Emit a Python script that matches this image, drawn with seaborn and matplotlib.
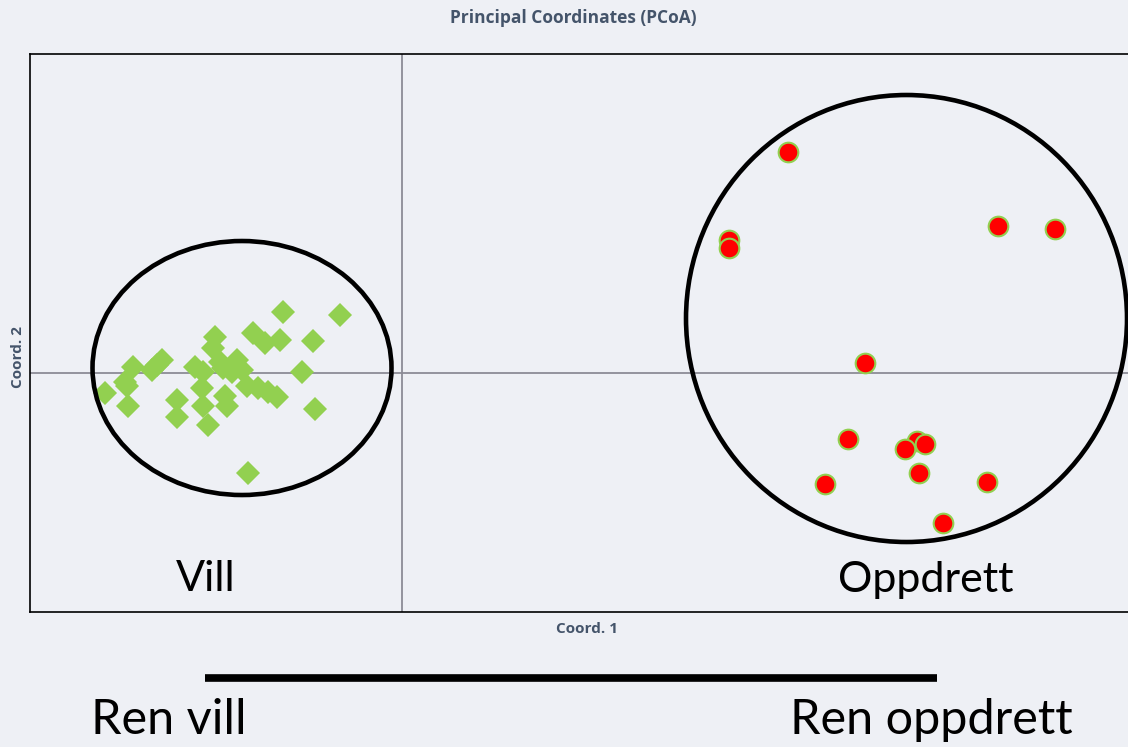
"""
PCoA scatter: Vill vs Oppdrett
"""
import pandas as pd
import seaborn as sns
import matplotlib

matplotlib.use('Agg')
import matplotlib.pyplot as plt
from matplotlib.patches import Ellipse

# ==================== data ====================
vill_x = [-1.19, -0.62, -1.87, -1.49, -1.37, -1.22, -0.89, -1.89, -2.40, -2.69,
          -2.50, -2.45, -2.07, -1.99, -1.82, -1.79, -1.65, -1.70, -1.60, -1.00,
          -2.97, -2.77, -2.75, -1.55, -1.44, -1.34, -1.25, -2.00, -2.25, -2.74,
          -2.25, -1.99, -1.77, -1.75, -1.94, -0.87, -1.54]
vill_y = [0.61, 0.58, 0.36, 0.40, 0.30, 0.33, 0.32, 0.25, 0.13, 0.06,
          0.03, 0.08, 0.06, 0.01, 0.11, 0.05, 0.13, 0.01, 0.03, 0.01,
          -0.20, -0.09, -0.13, -0.13, -0.15, -0.19, -0.24, -0.15, -0.27, -0.33,
          -0.44, -0.33, -0.23, -0.33, -0.52, -0.36, -1.00]

oppdrett_x = [3.86, 3.27, 3.27, 5.96, 6.53, 4.63, 4.46, 5.15, 5.23, 5.03,
              5.17, 4.23, 5.85, 5.41]
oppdrett_y = [2.21, 1.33, 1.25, 1.47, 1.44, 0.10, -0.66, -0.68, -0.71, -0.76,
              -1.00, -1.11, -1.09, -1.50]

df_vill = pd.DataFrame({"x": vill_x, "y": vill_y})
df_opp = pd.DataFrame({"x": oppdrett_x, "y": oppdrett_y})

BG = '#eef0f5'
TITLE_COLOR = '#44546a'

fig = plt.figure(figsize=(11.28, 7.47), dpi=100, facecolor=BG)
ax = fig.add_axes([0.0266, 0.1807, 0.9734, 0.747])
ax.set_facecolor(BG)

# gitter-linjer gjennom origo
ax.axvline(0, color='#8c8c96', lw=1.3, zorder=1)
ax.axhline(0, color='#8c8c96', lw=1.3, zorder=1)

sns.scatterplot(data=df_vill, x="x", y="y", marker='D', s=150, color='#92d050',
                edgecolor='none', ax=ax, zorder=3)
sns.scatterplot(data=df_opp, x="x", y="y", marker='o', s=200, color='#ff0000',
                edgecolor='#92d050', linewidth=1.5, ax=ax, zorder=3)

ax.set_xlim(-3.72, 7.26)
ax.set_ylim(-2.39, 3.19)

# ellipser rundt gruppene
ax.add_patch(Ellipse((-1.60, 0.05), 2.99, 2.54, fill=False, lw=3.3, ec='black', zorder=4))
ax.add_patch(Ellipse((5.045, 0.545), 4.41, 4.47, fill=False, lw=3.3, ec='black', zorder=4))

ax.text(-1.96, -2.06, "Vill", fontsize=31, family='Lato', ha='center', va='center')
ax.text(5.24, -2.07, "Oppdrett", fontsize=31, family='Lato', ha='center', va='center')

ax.set_xticks([])
ax.set_yticks([])
ax.set_xlabel("")
ax.set_ylabel("")
for side in ['left', 'top', 'bottom']:
    ax.spines[side].set_color('black')
    ax.spines[side].set_linewidth(1.2)
ax.spines['right'].set_visible(False)

fig.text(573 / 1128, 1 - 18 / 747, "Principal Coordinates (PCoA)", fontsize=12.5,
         fontweight='bold', color=TITLE_COLOR, ha='center', va='center', family='Open Sans')
fig.text(587 / 1128, 1 - 629 / 747, "Coord. 1", fontsize=11, fontweight='bold',
         color=TITLE_COLOR, ha='center', va='center', family='Open Sans')
fig.text(18 / 1128, 1 - 357 / 747, "Coord. 2", fontsize=11, fontweight='bold',
         color=TITLE_COLOR, ha='center', va='center', rotation=90, family='Open Sans')

# skala-linje nederst
fig.add_artist(plt.Line2D([205 / 1128, 937 / 1128], [1 - 678 / 747, 1 - 678 / 747],
                          color='black', lw=5.5, solid_capstyle='butt'))
fig.text(169 / 1128, 1 - 720 / 747, "Ren vill", fontsize=35, family='Lato',
         ha='center', va='center')
fig.text(931 / 1128, 1 - 720 / 747, "Ren oppdrett", fontsize=35, family='Lato',
         ha='center', va='center')

fig.savefig('out.png', dpi=100, facecolor=BG)
plt.close('all')
